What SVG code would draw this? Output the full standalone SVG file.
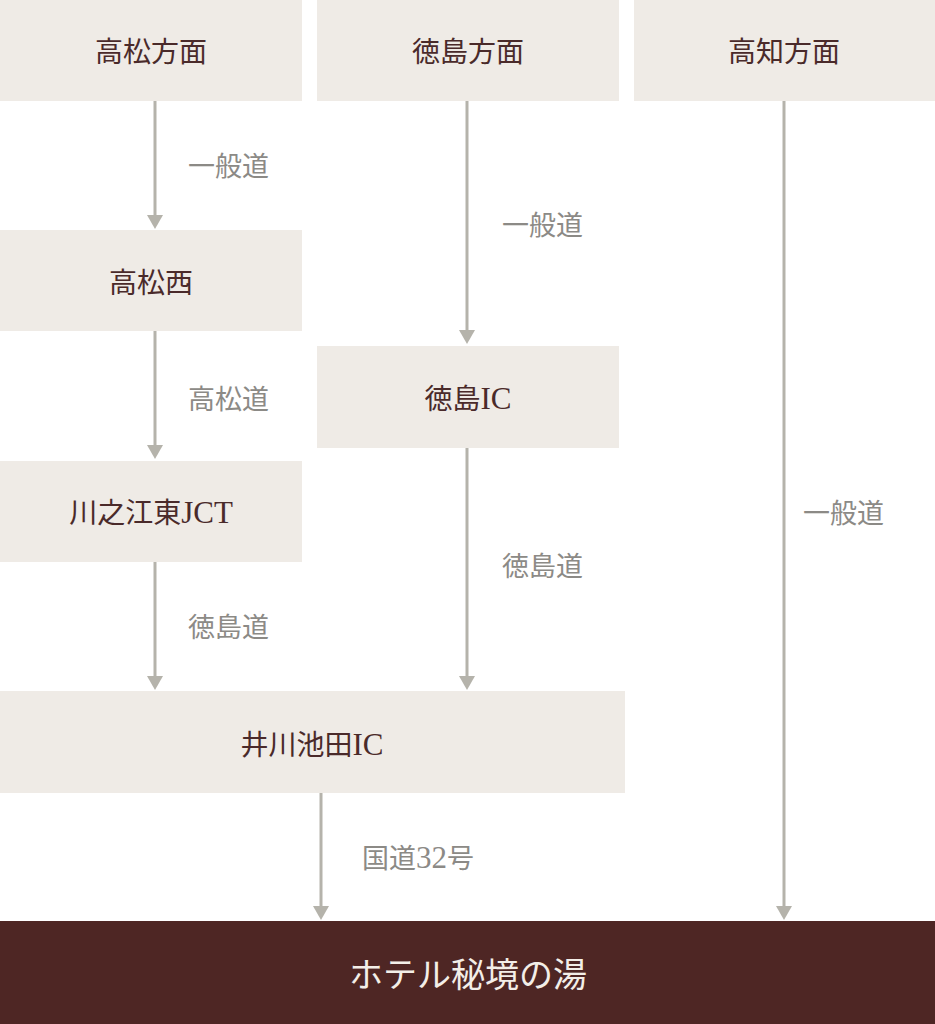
<svg xmlns="http://www.w3.org/2000/svg" width="935" height="1024" viewBox="0 0 935 1024">
<defs>
<style>
.box{fill:#efebe6}
.nt{font-family:"Liberation Serif","Noto Sans CJK JP",serif;font-size:28px;fill:#4a2a2a;text-anchor:middle}
.lb{font-family:"Liberation Serif","Noto Sans CJK JP",serif;font-size:27px;fill:#8c8a86}
.la{font-size:31px}
.ln{stroke:#b5b3ab;stroke-width:3;fill:none}
.ah{fill:#b5b3ab}
</style>
</defs>
<rect width="935" height="1024" fill="#ffffff"/>
<g id="connectors">
<line class="ln" x1="155" y1="101" x2="155" y2="216"/><polygon class="ah" points="147,215 163,215 155,229"/>
<line class="ln" x1="467" y1="101" x2="467" y2="331"/><polygon class="ah" points="459,330 475,330 467,344"/>
<line class="ln" x1="784" y1="101" x2="784" y2="907"/><polygon class="ah" points="776,906 792,906 784,920"/>
<line class="ln" x1="155" y1="331" x2="155" y2="446"/><polygon class="ah" points="147,445 163,445 155,459"/>
<line class="ln" x1="155" y1="562" x2="155" y2="677"/><polygon class="ah" points="147,676 163,676 155,690"/>
<line class="ln" x1="467" y1="448" x2="467" y2="677"/><polygon class="ah" points="459,676 475,676 467,690"/>
<line class="ln" x1="321" y1="793" x2="321" y2="907"/><polygon class="ah" points="313,906 329,906 321,920"/>
<text class="lb" x="188" y="176">一般道</text>
<text class="lb" x="502" y="235">一般道</text>
<text class="lb" x="803" y="523">一般道</text>
<text class="lb" x="188" y="409">高松道</text>
<text class="lb" x="188" y="637">徳島道</text>
<text class="lb" x="502" y="576">徳島道</text>
<text class="lb" x="362" y="868">国道<tspan class="la">32</tspan>号</text>
</g>
<g id="n-takamatsu"><rect class="box" x="0" y="0" width="302" height="101"/><text class="nt" x="151" y="62">高松方面</text></g>
<g id="n-tokushima"><rect class="box" x="317" y="0" width="302" height="101"/><text class="nt" x="468" y="62">徳島方面</text></g>
<g id="n-kochi"><rect class="box" x="634" y="0" width="301" height="101"/><text class="nt" x="784" y="62">高知方面</text></g>
<g id="n-takamatsunishi"><rect class="box" x="0" y="230" width="302" height="101"/><text class="nt" x="151" y="293">高松西</text></g>
<g id="n-tokushimaic"><rect class="box" x="317" y="346" width="302" height="102"/><text class="nt" x="468" y="409">徳島<tspan class="la">IC</tspan></text></g>
<g id="n-kawanoe"><rect class="box" x="0" y="461" width="302" height="101"/><text class="nt" x="151" y="523">川之江東<tspan class="la">JCT</tspan></text></g>
<g id="n-ikawa"><rect class="box" x="0" y="691" width="625" height="102"/><text class="nt" x="312" y="755">井川池田<tspan class="la">IC</tspan></text></g>
<g id="n-hotel"><rect x="0" y="921" width="935" height="103" fill="#4e2624"/><text class="nt" x="468" y="987" style="fill:#f3eee8;font-size:34px">ホテル秘境の湯</text></g>
</svg>
